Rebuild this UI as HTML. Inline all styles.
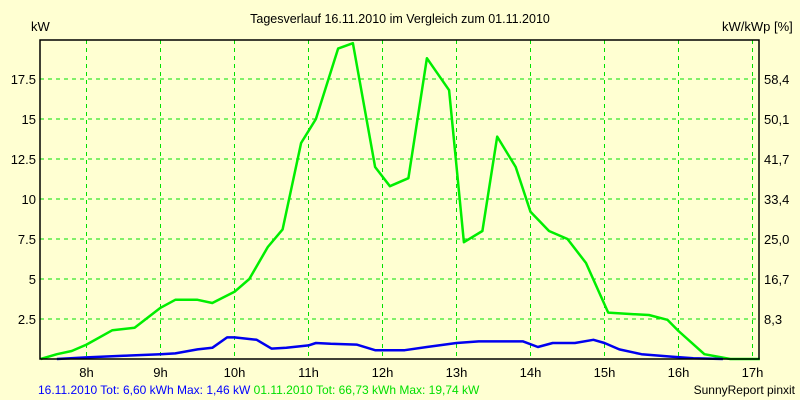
<!DOCTYPE html>
<html><head><meta charset="utf-8"><style>
body{margin:0;background:#ffffd2;}
svg{display:block;font-family:"Liberation Sans",sans-serif;}
</style></head><body>
<svg id="c" width="800" height="400" viewBox="0 0 800 400">
<rect width="800" height="400" fill="#ffffd2"/>
<text x="400" y="23" font-size="12.5" text-anchor="middle">Tagesverlauf 16.11.2010 im Vergleich zum 01.11.2010</text>
<text x="31" y="31" font-size="13">kW</text>
<text x="722" y="31" font-size="13">kW/kWp [%]</text>
<g id="grid"></g>
<g id="series"></g>
<rect x="40" y="40" width="719" height="319" fill="none" stroke="#000" stroke-width="1.5"/>
<text x="38" y="394" font-size="12"><tspan fill="#0000ff">16.11.2010 Tot: 6,60 kWh Max: 1,46 kW </tspan><tspan fill="#00e000">01.11.2010 Tot: 66,73 kWh Max: 19,74 kW</tspan></text>
<text x="795" y="394" font-size="12" text-anchor="end">SunnyReport pinxit</text>
</svg>
<script>
const hourTicks=[8,9,10,11,12,13,14,15,16,17];
const yTicks=[2.5,5,7.5,10,12.5,15,17.5];
const yTickLabels=["2.5","5","7.5","10","12.5","15","17.5"];
const rightTickLabels=["8,3","16,7","25,0","33,4","41,7","50,1","58,4"];
const greenT=[7.38,7.6,7.8,8.0,8.35,8.65,9.0,9.2,9.5,9.7,10.0,10.2,10.45,10.65,10.9,11.1,11.4,11.6,11.9,12.1,12.35,12.6,12.9,13.1,13.35,13.55,13.8,14.0,14.25,14.5,14.75,15.05,15.4,15.6,15.85,16.0,16.35,16.7,17.1];
const greenV=[0,0.3,0.5,0.9,1.8,1.95,3.2,3.7,3.7,3.5,4.2,5,7,8.1,13.5,15,19.4,19.74,12,10.8,11.3,18.8,16.8,7.3,8,13.9,12,9.2,8,7.5,6,2.9,2.8,2.75,2.45,1.75,0.3,0,0];
const blueT=[7.6,8.0,8.5,9.0,9.2,9.5,9.7,9.9,10.0,10.3,10.5,10.7,11.0,11.1,11.3,11.65,11.9,12.3,12.6,13.0,13.3,13.9,14.1,14.3,14.6,14.85,15.0,15.2,15.5,15.9,16.2,16.6];
const blueV=[0,0.1,0.2,0.3,0.35,0.6,0.7,1.35,1.35,1.2,0.65,0.7,0.85,1.0,0.95,0.9,0.55,0.55,0.75,1.0,1.1,1.1,0.75,1.0,1.0,1.2,1.0,0.6,0.3,0.15,0.05,0];
const X=h=>86.5+(h-8)*74;
const Y=v=>359-v*16;
const NS="http://www.w3.org/2000/svg";
const grid=document.getElementById('grid'),ser=document.getElementById('series');
function mk(tag,attrs,parent){const e=document.createElementNS(NS,tag);for(const k in attrs)e.setAttribute(k,attrs[k]);parent.appendChild(e);return e;}
hourTicks.forEach(h=>{
 const l=mk('line',{x1:X(h),x2:X(h),y1:40,y2:359,stroke:'#00e000','stroke-dasharray':'4,4'},grid);
 
 
 const t=mk('text',{x:X(h),y:377,'font-size':13,'text-anchor':'middle'},grid);t.textContent=h+'h';
 
 
});
yTicks.forEach((v,i)=>{
 const l=mk('line',{x1:40,x2:759,y1:Y(v),y2:Y(v),stroke:'#00e000','stroke-dasharray':'4,4'},grid);
 
 
 const t=mk('text',{x:36,y:Y(v)+5,'font-size':13,'text-anchor':'end'},grid);t.textContent=yTickLabels[i];
 
 
 const r=mk('text',{x:764,y:Y(v)+5,'font-size':13},grid);r.textContent=rightTickLabels[i];
 
 
});
function line(T,V,color,name){
 const p=mk('polyline',{points:T.map((t,i)=>X(t)+','+Y(V[i])).join(' '),fill:'none',stroke:color,'stroke-width':2.5,'stroke-linejoin':'round'},ser);
 
 
}
line(greenT,greenV,'#00ee00','series-01-11-2010');
line(blueT,blueV,'#0000ee','series-16-11-2010');
</script>
</body></html>
